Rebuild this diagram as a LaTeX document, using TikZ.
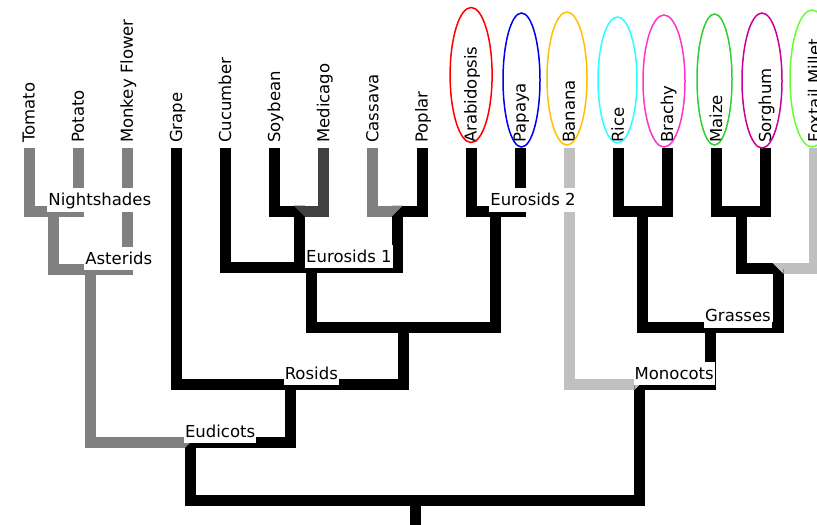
\documentclass[tikz,border=0pt]{standalone}
\usepackage{fontspec}
\setmainfont{DejaVu Sans}
\usepackage{tikz}
\usetikzlibrary{calc}
\definecolor{asterGray}{RGB}{128,128,128}
\definecolor{medGray}{RGB}{64,64,64}
\definecolor{paleGray}{RGB}{192,192,192}
\definecolor{ringRed}{RGB}{255,0,0}
\definecolor{ringBlue}{RGB}{0,0,240}
\definecolor{ringGold}{RGB}{255,192,0}
\definecolor{ringCyan}{RGB}{40,255,255}
\definecolor{ringPink}{RGB}{255,51,204}
\definecolor{ringGreen}{RGB}{51,204,51}
\definecolor{ringPurple}{RGB}{204,0,153}
\definecolor{ringLime}{RGB}{102,255,51}

\begin{document}
\begin{tikzpicture}[x=1pt, y=-1pt, font=\fontsize{16.5}{18}\selectfont,
  branch/.style={line width=11pt, line join=miter},
  leaf/.style={rotate=90, anchor=base west, inner sep=0pt},
  clade/.style={fill=white, anchor=base west, inner xsep=1pt, inner ysep=2.5pt,
    text height=15pt, text depth=3.5pt, xshift=-6.5pt, yshift=5.5pt},
  ring/.style={line width=1.5pt}]
  \useasboundingbox (0,0) rectangle (817,525);

  % Leaves: tips of the branches and their names
  \foreach \name/\lbl [count=\i from 0] in {tomato/Tomato, potato/Potato,
      monkey/Monkey Flower, grape/Grape, cucumber/Cucumber, soybean/Soybean,
      medicago/Medicago, cassava/Cassava, poplar/Poplar, arabidopsis/Arabidopsis,
      papaya/Papaya, banana/Banana, rice/Rice, brachy/Brachy, maize/Maize,
      sorghum/Sorghum, foxtail/Foxtail Millet} {
    \coordinate (\name) at ({29.2+49.1*\i}, 148);
    \node[leaf] (\name-name) at ({34.7+49.1*\i}, 143) {\lbl};
  }

  % Inner nodes of the tree
  \coordinate (nightshades) at (53.75, 211);
  \coordinate (asterids) at (90.6, 269.5);
  \coordinate (soymed) at (299.25, 211);
  \coordinate (caspop) at (397.45, 211);
  \coordinate (eurosidsA) at (311.5, 267.5);
  \coordinate (eurosidsB) at (495.65, 211);
  \coordinate (rosidsin) at (403.6, 327);
  \coordinate (rosids) at (290.05, 384.5);
  \coordinate (eudicots) at (190.3, 442.5);
  \coordinate (ricebrachy) at (642.95, 211);
  \coordinate (maisor) at (741.15, 211);
  \coordinate (panicoid) at (778, 268.5);
  \coordinate (grasses) at (710.5, 327);
  \coordinate (monocots) at (639.9, 384.5);
  \coordinate (root) at (415.1, 500.5);
  \coordinate (base) at (415.1, 525);

  % Grey branches
  \draw[branch, asterGray] (tomato) |- (nightshades);
  \draw[branch, asterGray] (potato) |- (nightshades);
  \draw[branch, asterGray] (nightshades) |- (asterids);
  \draw[branch, asterGray] (monkey) |- (asterids);
  \draw[branch, asterGray] (asterids) |- (eudicots);
  \draw[branch, medGray] (medicago) |- (soymed);
  \draw[branch, asterGray] (cassava) |- (caspop);
  \draw[branch, paleGray] (banana) |- (monocots);
  \draw[branch, paleGray] (foxtail) |- (panicoid);

  % Black branches
  \draw[branch] (grape) |- (rosids);
  \draw[branch] (cucumber) |- (eurosidsA);
  \draw[branch] (soybean) |- (soymed);
  \draw[branch] (soymed) |- (eurosidsA);
  \draw[branch] (poplar) |- (caspop);
  \draw[branch] (caspop) |- (eurosidsA);
  \draw[branch] (arabidopsis) |- (eurosidsB);
  \draw[branch] (papaya) |- (eurosidsB);
  \draw[branch] (eurosidsA) |- (rosidsin);
  \draw[branch] (eurosidsB) |- (rosidsin);
  \draw[branch] (rosidsin) |- (rosids);
  \draw[branch] (rosids) |- (eudicots);
  \draw[branch] (eudicots) |- (root);
  \draw[branch] (rice) |- (ricebrachy);
  \draw[branch] (brachy) |- (ricebrachy);
  \draw[branch] (maize) |- (maisor);
  \draw[branch] (sorghum) |- (maisor);
  \draw[branch] (maisor) |- (panicoid);
  \draw[branch] (ricebrachy) |- (grasses);
  \draw[branch] (panicoid) |- (grasses);
  \draw[branch] (grasses) |- (monocots);
  \draw[branch] (monocots) |- (root);
  \draw[branch] (root) -- (base);

  % Mitred corners where a grey branch meets a black one
  \fill[asterGray] ($(eudicots)+(-5.5,-5.5)$) -- ++(11,0) -- ++(-11,11) -- cycle;
  \fill[asterGray] ($(caspop)+(-5.5,-5.5)$) -- ++(11,0) -- ++(-11,11) -- cycle;
  \fill[paleGray] ($(monocots)+(-5.5,-5.5)$) -- ++(11,0) -- ++(-11,11) -- cycle;
  \fill[medGray] ($(soymed)+(-5.5,-5.5)$) -- ++(11,0) -- ++(0,11) -- cycle;
  \fill[paleGray] ($(panicoid)+(-5.5,-5.5)$) -- ++(11,0) -- ++(0,11) -- cycle;

  % Clade names
  \node[clade] (nightshades-name) at (nightshades) {Nightshades};
  \node[clade] (asterids-name) at (asterids) {Asterids};
  \node[clade] (eurosidsA-name) at (eurosidsA) {Eurosids 1};
  \node[clade] (eurosidsB-name) at (eurosidsB) {Eurosids 2};
  \node[clade] (rosids-name) at (rosids) {Rosids};
  \node[clade] (eudicots-name) at (eudicots) {Eudicots};
  \node[clade] (grasses-name) at (grasses) {Grasses};
  \node[clade] (monocots-name) at (monocots) {Monocots};

  % Rings round the sequenced genomes
  \draw[ring, ringRed] (471.1, 75) ellipse [x radius=21pt, y radius=67.5pt];
  \draw[ring, ringBlue] (521.5, 80) ellipse [x radius=18.5pt, y radius=67pt];
  \draw[ring, ringGold] (567, 78.5) ellipse [x radius=20pt, y radius=66.5pt];
  \draw[ring, ringCyan] (617.5, 80) ellipse [x radius=19.5pt, y radius=63pt];
  \draw[ring, ringPink] (664, 81) ellipse [x radius=21pt, y radius=66pt];
  \draw[ring, ringGreen] (714.5, 79.5) ellipse [x radius=17.5pt, y radius=65.5pt];
  \draw[ring, ringPurple] (762, 80.5) ellipse [x radius=20pt, y radius=67.5pt];
  \draw[ring, ringLime] (812, 78.5) ellipse [x radius=22pt, y radius=68.5pt];
\end{tikzpicture}
\end{document}
